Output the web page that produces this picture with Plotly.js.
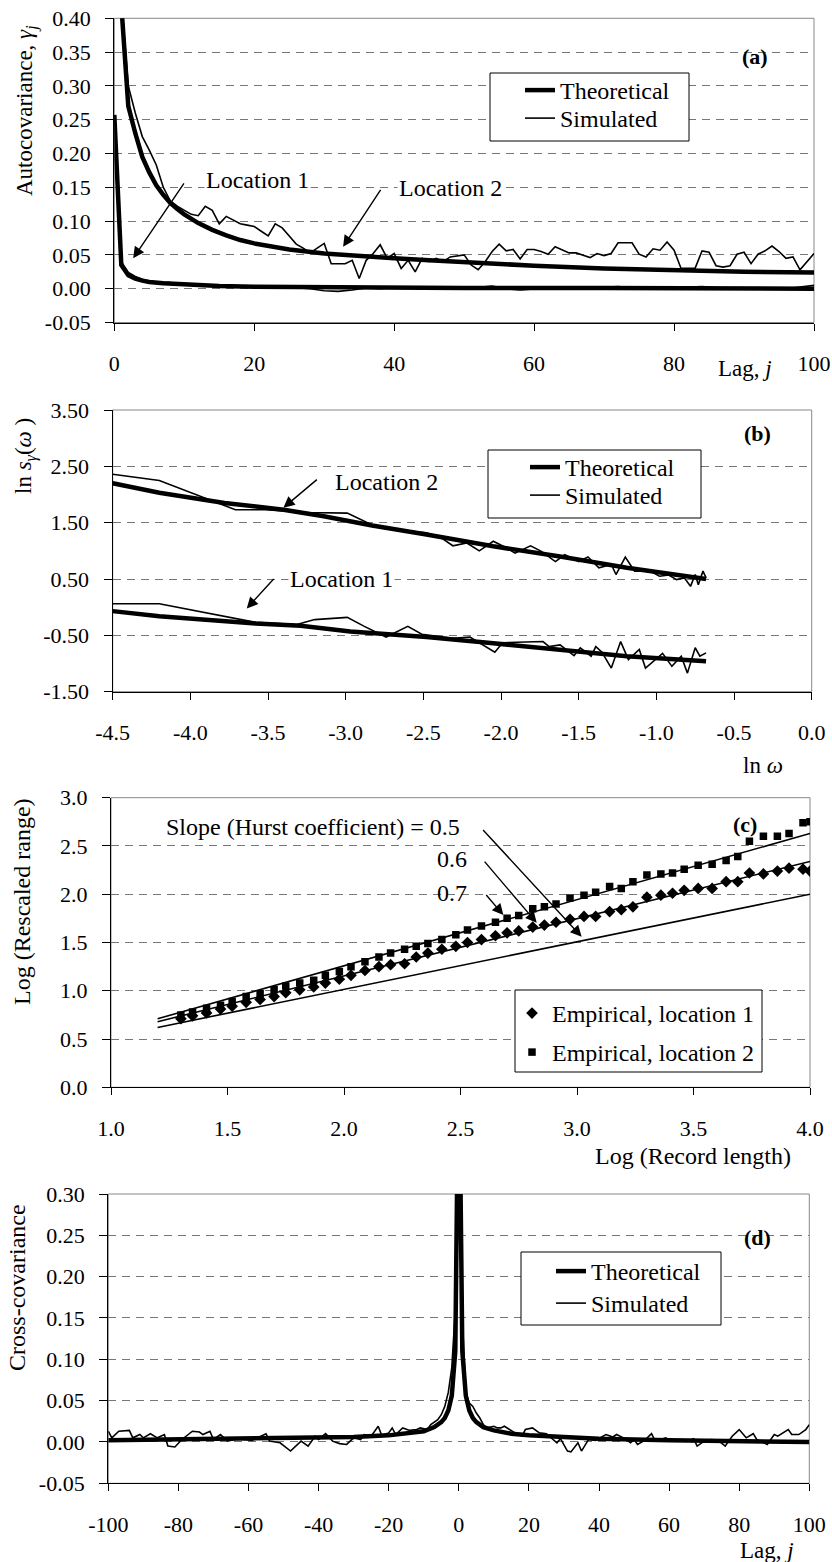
<!DOCTYPE html>
<html>
<head>
<meta charset="utf-8">
<script src="https://cdn.plot.ly/plotly-3.0.1.min.js"></script>
<style>
html,body{margin:0;padding:0;background:#fff;}
#chart{width:832px;height:1562px;}
</style>
</head>
<body>
<div id="chart"></div>
<script>
// ---------------- Panel (a): autocovariance ----------------
const lagTheoL1 = [0,1,2,3,4,5,7,10,15,20,30,50,70,100];
const acfTheoL1 = [0.257,0.035,0.020,0.015,0.012,0.010,0.008,0.006,0.004,0.003,0.002,0.001,0.001,0.0];
const lagSimL1 = [0,1,2,3,4,5,6,8,10,12,14,16,18,20,22,24,26,28,30,32,34,36,38,40,44,48,50,54,56,58,62,66,70,72,76,80,84,88,92,96,100];
const acfSimL1 = [0.257,0.040,0.024,0.018,0.014,0.011,0.010,0.009,0.006,0.004,0.005,0.003,0.004,0.003,0.001,0.003,0.002,0.000,-0.003,-0.004,-0.002,0.001,0.000,0.002,0.001,0.002,0.000,0.004,0.000,-0.002,0.001,0.000,0.002,0.003,0.000,0.002,0.003,0.000,0.001,0.000,0.005];
const lagTheoL2 = [1,2,3,4,5,6,7,8,9,10,12,14,16,18,20,25,30,35,40,45,50,60,70,80,90,100];
const acfTheoL2 = [0.42,0.27,0.23,0.195,0.172,0.153,0.139,0.127,0.118,0.110,0.097,0.087,0.079,0.072,0.067,0.058,0.052,0.048,0.045,0.042,0.039,0.034,0.030,0.027,0.025,0.024];
const lagSimL2 = [1,2,3,4,5,6,7,8,9,10,11,12,13,14,15,16,17,18,19,20,21,22,23,24,25,26,27,28,29,30,31,32,33,34,35,36,37,38,39,40,41,42,43,44,45,46,47,48,49,50,51,52,53,54,55,56,57,58,59,60,61,62,63,64,65,66,67,68,69,70,71,72,73,74,75,76,77,78,79,80,81,82,83,84,85,86,87,88,89,90,91,92,93,94,95,96,97,98,99,100];
const acfSimL2 = [0.43,0.30,0.26,0.225,0.205,0.183,0.150,0.130,0.122,0.116,0.110,0.108,0.122,0.116,0.096,0.107,0.102,0.096,0.094,0.092,0.085,0.078,0.096,0.090,0.078,0.066,0.060,0.053,0.060,0.067,0.037,0.037,0.037,0.042,0.015,0.042,0.052,0.065,0.045,0.052,0.030,0.042,0.025,0.045,0.040,0.045,0.040,0.047,0.048,0.050,0.035,0.028,0.040,0.055,0.066,0.056,0.058,0.044,0.058,0.058,0.055,0.051,0.062,0.058,0.053,0.053,0.050,0.046,0.052,0.049,0.052,0.068,0.068,0.068,0.051,0.047,0.059,0.057,0.069,0.057,0.030,0.030,0.030,0.056,0.054,0.034,0.032,0.034,0.051,0.054,0.037,0.051,0.056,0.063,0.055,0.045,0.047,0.028,0.040,0.052];

// ---------------- Panel (b): log spectrum ----------------
const lnwTheoL2 = [-4.5,-4.2,-3.78,-3.40,-3.15,-2.83,-2.48,-2.05,-1.62,-1.19,-0.68];
const specTheoL2 = [2.20,2.03,1.85,1.73,1.62,1.45,1.29,1.08,0.90,0.70,0.50];
const lnwSimL2 = [-4.5,-4.2,-3.71,-3.52,-3.25,-2.99,-2.83,-2.70,-2.48,-2.38,-2.31,-2.22,-2.14,-2.05,-1.97,-1.91,-1.81,-1.74,-1.65,-1.59,-1.50,-1.44,-1.37,-1.29,-1.26,-1.20,-1.14,-1.04,-0.98,-0.92,-0.87,-0.82,-0.78,-0.75,-0.73,-0.70,-0.68];
const specSimL2 = [2.36,2.25,1.73,1.73,1.68,1.67,1.46,1.38,1.32,1.22,1.09,1.14,1.00,1.17,1.06,0.96,1.09,0.99,0.81,0.93,0.81,0.89,0.70,0.76,0.58,0.89,0.64,0.64,0.55,0.57,0.49,0.52,0.37,0.58,0.40,0.64,0.52];
const lnwTheoL1 = [-4.5,-4.2,-3.58,-3.29,-2.97,-2.48,-2.05,-1.62,-1.19,-0.68];
const specTheoL1 = [-0.07,-0.16,-0.29,-0.33,-0.43,-0.53,-0.64,-0.75,-0.87,-0.96];
const lnwSimL1 = [-4.5,-4.2,-3.58,-3.32,-3.20,-2.99,-2.88,-2.74,-2.60,-2.51,-2.31,-2.20,-2.04,-1.99,-1.73,-1.69,-1.62,-1.53,-1.49,-1.42,-1.39,-1.35,-1.29,-1.23,-1.18,-1.11,-1.07,-1.00,-0.96,-0.90,-0.84,-0.80,-0.75,-0.72,-0.68];
const specSimL1 = [0.06,0.06,-0.27,-0.31,-0.22,-0.18,-0.34,-0.53,-0.34,-0.48,-0.55,-0.53,-0.80,-0.63,-0.61,-0.70,-0.67,-0.86,-0.72,-0.87,-0.70,-0.80,-1.08,-0.61,-0.93,-0.75,-1.08,-0.91,-0.82,-1.05,-0.87,-1.17,-0.72,-0.87,-0.81];

// ---------------- Panel (c): rescaled range ----------------
const logLen = [1.30,1.35,1.41,1.47,1.52,1.58,1.64,1.70,1.75,1.81,1.87,1.92,1.98,2.03,2.09,2.15,2.20,2.26,2.31,2.36,2.42,2.48,2.53,2.59,2.65,2.70,2.75,2.81,2.86,2.91,2.97,3.03,3.08,3.14,3.19,3.24,3.30,3.36,3.41,3.46,3.52,3.58,3.64,3.69,3.74,3.80,3.86,3.91,3.97,4.00];
const logRSL1 = [0.71,0.74,0.77,0.81,0.84,0.88,0.91,0.94,0.98,1.01,1.04,1.08,1.12,1.16,1.21,1.25,1.27,1.28,1.35,1.39,1.43,1.46,1.50,1.53,1.57,1.60,1.62,1.66,1.68,1.71,1.74,1.77,1.77,1.82,1.84,1.87,1.97,1.99,2.01,2.04,2.06,2.06,2.13,2.13,2.22,2.21,2.24,2.27,2.26,2.24];
const logRSL2 = [0.75,0.78,0.82,0.85,0.89,0.94,0.97,1.01,1.05,1.08,1.11,1.16,1.20,1.25,1.30,1.35,1.39,1.43,1.46,1.49,1.53,1.58,1.63,1.67,1.71,1.75,1.78,1.85,1.87,1.90,1.96,1.99,2.02,2.08,2.06,2.13,2.20,2.21,2.22,2.26,2.30,2.31,2.35,2.39,2.55,2.60,2.60,2.63,2.74,2.75];
const slopeLineX = [1.2,4.0];
const slope05Y = [0.62,2.00];
const slope06Y = [0.68,2.34];
const slope07Y = [0.71,2.63];

// ---------------- Panel (d): cross-covariance ----------------
const lagTheoD = [-100,-80,-60,-40,-30,-20,-15,-10,-7,-5,-4,-3,-2,-1,0,1,2,3,4,5,7,10,15,20,30,40,60,80,100];
const ccvTheoD = [0.002,0.003,0.004,0.005,0.006,0.008,0.010,0.013,0.018,0.024,0.029,0.038,0.056,0.11,0.50,0.11,0.056,0.038,0.029,0.024,0.018,0.014,0.010,0.008,0.006,0.004,0.002,0.001,0.0];
const lagSimD = [-100,-99,-97,-95,-94,-93,-91,-90,-88,-86,-84,-83,-81,-79,-76,-74,-73,-71,-70,-68,-66,-63,-59,-55,-54,-51,-48,-45,-43,-41,-40,-38,-36,-34,-32,-30,-28,-27,-25,-23,-22,-20,-19,-18,-16,-14,-12,-11,-9,-8,-6,-5,-4,-3,-2,-1,0,1,2,3,4,5,6,7,8,9,10,11,12,13,15,16,18,19,21,23,25,28,29,31,32,34,35,37,39,41,42,44,45,47,49,50,51,53,55,56,59,61,63,65,67,68,70,72,74,76,78,80,82,84,85,88,90,91,94,95,97,99,100];
const ccvSimD = [0.013,0.005,0.013,0.014,0.014,0.005,0.009,0.005,0.010,0.005,0.009,-0.005,-0.006,0.003,0.013,0.012,0.009,0.013,0.003,0.009,0.001,0.004,0.002,0.010,0.001,-0.001,-0.011,0.001,-0.005,0.007,0.003,0.010,0.001,-0.002,-0.003,0.005,0.003,0.009,0.007,0.019,0.008,0.011,0.017,0.009,0.017,0.014,0.015,0.017,0.015,0.021,0.027,0.033,0.043,0.060,0.090,0.160,0.50,0.150,0.060,0.047,0.043,0.035,0.029,0.021,0.017,0.018,0.019,0.017,0.017,0.019,0.013,0.011,0.007,0.015,0.017,0.011,0.010,-0.001,0.004,-0.011,-0.012,-0.001,-0.011,0.003,0.002,0.006,0.009,0.006,0.009,0.005,-0.001,0.003,-0.003,0.002,0.010,0.001,0.005,0.001,0.003,0.001,0.004,-0.005,0.001,0.003,0.002,-0.005,0.007,0.015,0.005,0.010,0.003,-0.003,0.009,0.007,0.015,0.009,0.009,0.015,0.021];

// ---------------- Tick labels ----------------
const xTicksA = [0,20,40,60,80,100];
const xTickTextA = ['0','20','40','60','80','100'];
const yTicksA = [-0.05,0,0.05,0.10,0.15,0.20,0.25,0.30,0.35,0.40];
const yTickTextA = ['-0.05','0.00','0.05','0.10','0.15','0.20','0.25','0.30','0.35','0.40'];
const xTicksB = [-4.5,-4.0,-3.5,-3.0,-2.5,-2.0,-1.5,-1.0,-0.5,0.0];
const xTickTextB = ['-4.5','-4.0','-3.5','-3.0','-2.5','-2.0','-1.5','-1.0','-0.5','0.0'];
const yTicksB = [-1.5,-0.5,0.5,1.5,2.5,3.5];
const yTickTextB = ['-1.50','-0.50','0.50','1.50','2.50','3.50'];
const xTicksC = [1.0,1.5,2.0,2.5,3.0,3.5,4.0];
const xTickTextC = ['1.0','1.5','2.0','2.5','3.0','3.5','4.0'];
const yTicksC = [0,0.5,1.0,1.5,2.0,2.5,3.0];
const yTickTextC = ['0.0','0.5','1.0','1.5','2.0','2.5','3.0'];
const xTicksD = [-100,-80,-60,-40,-20,0,20,40,60,80,100];
const xTickTextD = ['-100','-80','-60','-40','-20','0','20','40','60','80','100'];
const yTicksD = [-0.05,0,0.05,0.10,0.15,0.20,0.25,0.30];
const yTickTextD = ['-0.05','0.00','0.05','0.10','0.15','0.20','0.25','0.30'];

// ---------------- Build figure ----------------
const FONT = 'Liberation Serif';
const THICK = 4.5, THIN = 1.6;
const W = 832, H = 1562;
const px = v => v / W;
const py = v => 1 - v / H;

function line(x, y, xa, ya, width, name, legend, show) {
  return {x: x, y: y, xaxis: xa, yaxis: ya, type: 'scatter', mode: 'lines',
    line: {color: '#000', width: width}, name: name, legend: legend,
    showlegend: show, hoverinfo: 'skip'};
}

const traces = [
  line(lagSimL1, acfSimL1, 'x', 'y', THIN, 'Simulated', 'legend5', false),
  line(lagSimL2, acfSimL2, 'x', 'y', THIN, 'Simulated', 'legend5', true),
  line(lagTheoL1, acfTheoL1, 'x', 'y', THICK, 'Theoretical', 'legend', false),
  line(lagTheoL2, acfTheoL2, 'x', 'y', THICK, 'Theoretical', 'legend', true),

  line(lnwSimL2, specSimL2, 'x2', 'y2', THIN, 'Simulated', 'legend6', true),
  line(lnwSimL1, specSimL1, 'x2', 'y2', THIN, 'Simulated', 'legend6', false),
  line(lnwTheoL2, specTheoL2, 'x2', 'y2', THICK, 'Theoretical', 'legend2', true),
  line(lnwTheoL1, specTheoL1, 'x2', 'y2', THICK, 'Theoretical', 'legend2', false),

  line(slopeLineX, slope05Y, 'x3', 'y3', THIN, 'H=0.5', 'legend3', false),
  line(slopeLineX, slope06Y, 'x3', 'y3', THIN, 'H=0.6', 'legend3', false),
  line(slopeLineX, slope07Y, 'x3', 'y3', THIN, 'H=0.7', 'legend3', false),
  {x: logLen, y: logRSL1, xaxis: 'x3', yaxis: 'y3', type: 'scatter', mode: 'markers',
    marker: {symbol: 'diamond', size: 9, color: '#000'}, name: 'Empirical, location 1',
    legend: 'legend3', hoverinfo: 'skip'},
  {x: logLen, y: logRSL2, xaxis: 'x3', yaxis: 'y3', type: 'scatter', mode: 'markers',
    marker: {symbol: 'square', size: 7.5, color: '#000'}, name: 'Empirical, location 2',
    legend: 'legend7', hoverinfo: 'skip'},

  line(lagSimD, ccvSimD, 'x4', 'y4', THIN, 'Simulated', 'legend8', true),
  line(lagTheoD, ccvTheoD, 'x4', 'y4', THICK, 'Theoretical', 'legend4', true)
];

function tickFont() { return {family: FONT, size: 22, color: '#000'}; }
function xax(domain, anchor, range, tv, tt) {
  return {domain: domain, anchor: anchor, range: range, tickvals: tv, ticktext: tt,
    showgrid: false, zeroline: false, showline: true, linecolor: '#000', linewidth: 1,
    ticks: 'outside', ticklen: 7, tickcolor: '#000', tickwidth: 1,
    tickfont: tickFont(), ticklabelstandoff: 14, fixedrange: true};
}
function yax(domain, anchor, range, tv, tt) {
  return {domain: domain, anchor: anchor, range: range, tickvals: tv, ticktext: tt,
    showgrid: true, gridcolor: '#777', gridwidth: 1, griddash: '8px,6px',
    zeroline: false, showline: true, linecolor: '#000', linewidth: 1.2,
    ticks: 'outside', ticklen: 8, tickcolor: '#000', tickwidth: 1,
    tickfont: tickFont(), ticklabelstandoff: 10, fixedrange: true};
}

// one legend per row (exact row placement); a box shape draws each frame
function leg(left, rowCenter) {
  return {x: px(left), y: py(rowCenter - 22), xanchor: 'left', yanchor: 'top', xref: 'paper', yref: 'paper',
    bgcolor: 'rgba(0,0,0,0)', borderwidth: 0, font: {family: FONT, size: 24, color: '#000'},
    tracegroupgap: 0, itemwidth: 30, traceorder: 'normal'};
}
function legBox(x0, y0, x1, y1) {
  return {type: 'rect', xref: 'paper', yref: 'paper', x0: px(x0), x1: px(x1), y0: py(y1), y1: py(y0),
    line: {color: '#000', width: 1}, fillcolor: '#fff', layer: 'above'};
}

function annFont(size) { return {family: FONT, size: size || 24, color: '#000'}; }
function txt(text, x, y, xref, yref, opts) {
  return Object.assign({text: text, x: x, y: y, xref: xref, yref: yref, showarrow: false,
    font: annFont(), xanchor: 'center', yanchor: 'middle'}, opts || {});
}
function arrow(xh, yh, xt, yt, xref, yref) {
  return {text: '', x: xh, y: yh, ax: xt, ay: yt, xref: xref, yref: yref,
    axref: xref, ayref: yref, showarrow: true, arrowhead: 2, arrowsize: 1.6,
    arrowwidth: 1.4, arrowcolor: '#000', standoff: 0, startstandoff: 0};
}

const annotations = [
  // axis titles
  txt('Autocovariance, <i>γ<sub>j</sub></i>', px(27), py(111), 'paper', 'paper', {textangle: -90, font: annFont(23)}),
  txt('Lag, <i>j</i>', px(745), py(368), 'paper', 'paper', {font: annFont(23)}),
  txt('ln <i>s</i><sub><i>γ</i></sub>(<i>ω</i> )', px(25), py(456), 'paper', 'paper', {textangle: -90, font: annFont(23)}),
  txt('ln <i>ω</i>', px(763), py(765), 'paper', 'paper', {font: annFont(23)}),
  txt('Log (Rescaled range)', px(22), py(902), 'paper', 'paper', {textangle: -90}),
  txt('Log (Record length)', px(693), py(1156), 'paper', 'paper'),
  txt('Cross-covariance', px(17), py(1288), 'paper', 'paper', {textangle: -90}),
  txt('Lag, <i>j</i>', px(767), py(1550), 'paper', 'paper', {font: annFont(23)}),
  // panel labels
  txt('<b>(a)</b>', px(755), py(57), 'paper', 'paper', {font: annFont(22)}),
  txt('<b>(b)</b>', px(757), py(433), 'paper', 'paper', {font: annFont(22)}),
  txt('<b>(c)</b>', px(745), py(825), 'paper', 'paper', {font: annFont(22)}),
  txt('<b>(d)</b>', px(757), py(1237), 'paper', 'paper', {font: annFont(22)}),
  // panel (a) location labels
  txt('Location 1', 20.4, 0.161, 'x', 'y', {bgcolor: '#fff'}),
  arrow(2.7, 0.045, 10.1, 0.158, 'x', 'y'),
  txt('Location 2', 48, 0.149, 'x', 'y', {bgcolor: '#fff'}),
  arrow(32.7, 0.062, 38.2, 0.1485, 'x', 'y'),
  // panel (b)
  txt('Location 2', -2.737, 2.226, 'x2', 'y2', {bgcolor: '#fff'}),
  arrow(-3.401, 1.765, -3.176, 2.287, 'x2', 'y2'),
  txt('Location 1', -3.027, 0.493, 'x2', 'y2', {bgcolor: '#fff'}),
  arrow(-3.637, -0.023, -3.455, 0.528, 'x2', 'y2'),
  // panel (c)
  txt('Slope (Hurst coefficient) = 0.5', 1.869, 2.698, 'x3', 'y3'),
  txt('0.6', 2.464, 2.363, 'x3', 'y3'),
  txt('0.7', 2.464, 2.011, 'x3', 'y3'),
  arrow(3.020, 1.559, 2.591, 2.681, 'x3', 'y3'),
  arrow(2.827, 1.704, 2.598, 2.353, 'x3', 'y3'),
  arrow(2.684, 1.784, 2.605, 2.008, 'x3', 'y3')
];

function border(xr, yr) {
  return {type: 'rect', xref: xr + ' domain', yref: yr + ' domain', x0: 0, x1: 1, y0: 0, y1: 1,
    line: {color: '#888', width: 1}, layer: 'below'};
}

const layout = {
  width: W, height: H,
  margin: {l: 0, r: 0, t: 0, b: 0},
  paper_bgcolor: '#fff', plot_bgcolor: '#fff',
  font: {family: FONT, color: '#000'},
  xaxis: xax([px(114.3), px(814)], 'y', [0, 100], xTicksA, xTickTextA),
  yaxis: yax([py(322.5), py(18.3)], 'x', [-0.05, 0.40], yTicksA, yTickTextA),
  xaxis2: xax([px(112.7), px(811.7)], 'y2', [-4.5, 0], xTicksB, xTickTextB),
  yaxis2: yax([py(691.7), py(410)], 'x2', [-1.5, 3.5], yTicksB, yTickTextB),
  xaxis3: xax([px(111), px(810)], 'y3', [1.0, 4.0], xTicksC, xTickTextC),
  yaxis3: yax([py(1087.3), py(797.7)], 'x3', [0, 3.0], yTicksC, yTickTextC),
  xaxis4: xax([px(108.3), px(809.3)], 'y4', [-100, 100], xTicksD, xTickTextD),
  yaxis4: yax([py(1483.3), py(1194)], 'x4', [-0.05, 0.30], yTicksD, yTickTextD),
  legend: leg(520, 90),
  legend5: leg(520, 118),
  legend2: leg(525, 467),
  legend6: leg(525, 495),
  legend3: leg(512, 1013),
  legend7: leg(512, 1052),
  legend4: leg(551, 1271),
  legend8: leg(551, 1303),
  annotations: annotations,
  shapes: [border('x', 'y'), border('x2', 'y2'), border('x3', 'y3'), border('x4', 'y4'),
    legBox(490, 73, 689, 141), legBox(488, 450, 701, 518),
    legBox(515, 990, 762, 1072), legBox(521, 1252, 721, 1325)]
};

Plotly.newPlot('chart', traces, layout, {staticPlot: true, displayModeBar: false});
</script>
</body>
</html>
